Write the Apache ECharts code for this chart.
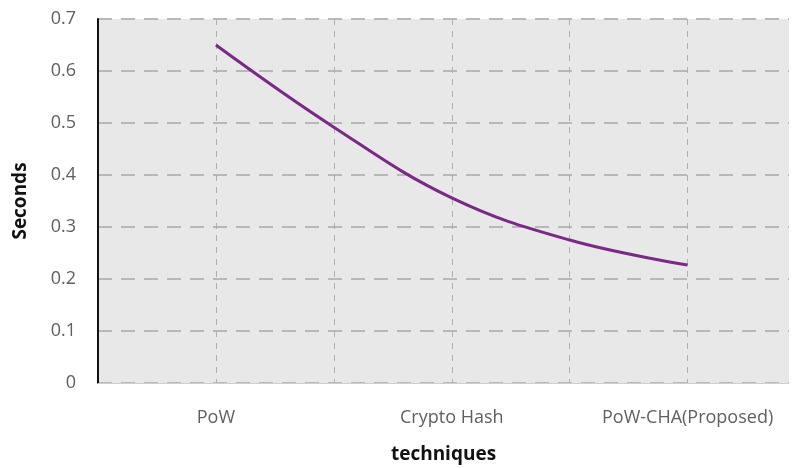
<!DOCTYPE html>
<html>
<head>
<meta charset="utf-8">
<script src="https://cdn.jsdelivr.net/npm/echarts@6/dist/echarts.min.js"></script>
<style>html,body{margin:0;padding:0;background:#fff}#c{width:793px;height:468px}</style>
</head>
<body>
<div id="c"></div>
<script>
// positions 0..6 along the x axis; only some carry labels
const categories = ['', 'PoW', '', 'Crypto Hash', '', 'PoW-CHA(Proposed)', ''];
const xPositions = [1, 2, 3, 4, 5];
const seconds = [0.65, 0.492, 0.356, 0.275, 0.227];
const yTicks = [0, 0.1, 0.2, 0.3, 0.4, 0.5, 0.6, 0.7];

const chart = echarts.init(document.getElementById('c'));
chart.setOption({
  animation: false,
  grid: {left: 98, right: 4, top: 19, bottom: 85, show: true, backgroundColor: '#e8e8e8', borderWidth: 0,
         containLabel: false, outerBoundsMode: 'none'},
  xAxis: {
    type: 'value', min: 0, max: 5.86, interval: 1,
    name: 'techniques', nameLocation: 'middle', nameGap: 62,
    nameTextStyle: {fontFamily: 'Open Sans', fontWeight: 'bold', fontSize: 19, color: '#111'},
    axisLine: {show: true, lineStyle: {color: '#cfcfcf', width: 1}},
    axisTick: {show: false},
    axisLabel: {
      margin: 26, fontFamily: 'Open Sans', fontSize: 18, color: '#606060',
      formatter: v => (Number.isInteger(v) ? (categories[v] || '') : '')
    },
    splitLine: {show: true, showMinLine: false, showMaxLine: false, lineStyle: {type: [6, 6], color: '#b0b0b0', width: 1}}
  },
  yAxis: {
    type: 'value', min: 0, max: 0.7, interval: 0.1,
    name: 'Seconds', nameLocation: 'middle', nameGap: 68,
    nameTextStyle: {fontFamily: 'Open Sans', fontWeight: 'bold', fontSize: 19, color: '#111'},
    axisLine: {show: true, lineStyle: {color: '#111', width: 2}},
    axisTick: {show: false},
    axisLabel: {
      margin: 22, fontFamily: 'Open Sans', fontSize: 18, color: '#606060',
      formatter: v => { const t = yTicks.find(x => Math.abs(x - v) < 1e-9); return t === 0 ? '0' : (t !== undefined ? t.toFixed(1) : ''); }
    },
    splitLine: {show: true, lineStyle: {type: [14, 9], color: '#b8b8b8', width: 2}}
  },
  series: [{
    type: 'line', smooth: 0.4, symbol: 'none',
    data: xPositions.map((x, i) => [x, seconds[i]]),
    lineStyle: {color: '#7a2a86', width: 3}
  }]
});
</script>
</body>
</html>
